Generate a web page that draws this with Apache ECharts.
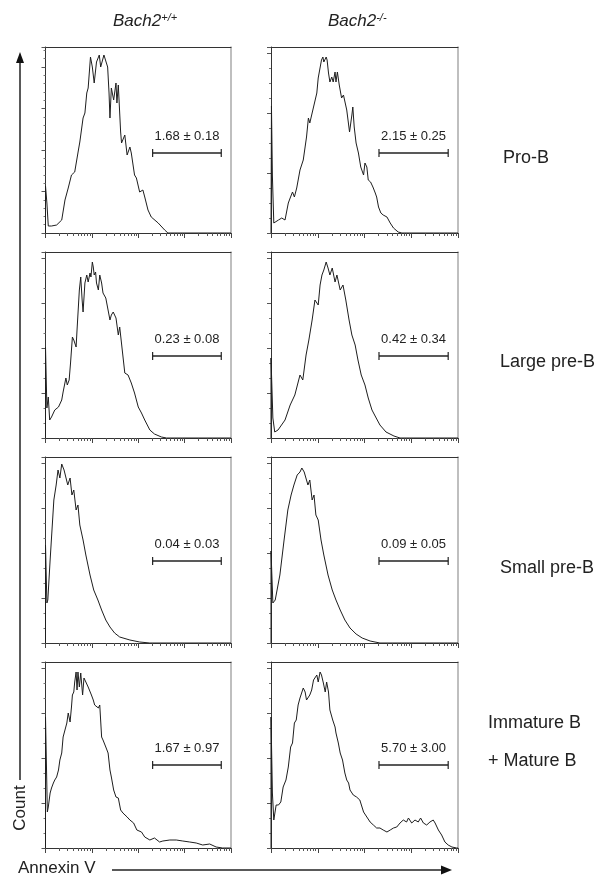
<!DOCTYPE html>
<html><head><meta charset="utf-8">
<script src="https://cdn.jsdelivr.net/npm/echarts@6/dist/echarts.min.js"></script>
<style>html,body{margin:0;padding:0;background:#fff}#c{width:601px;height:882px}</style>
</head><body><div id="c"></div>
<script>
const FONT = '"Liberation Sans", Arial, Helvetica, sans-serif';
const rowLabels = ['Pro-B', 'Large pre-B', 'Small pre-B', 'Immature B', '+ Mature B'];
const colHeads = ['+/+', '-/-'];
const gateTexts = ['1.68 \u00b1 0.18', '2.15 \u00b1 0.25', '0.23 \u00b1 0.08', '0.42 \u00b1 0.34',
                   '0.04 \u00b1 0.03', '0.09 \u00b1 0.05', '1.67 \u00b1 0.97', '5.70 \u00b1 3.00'];
const gateLo = 231, gateHi = 379;          // Annexin V channel (4 decades = 0..400)
const gateLevels = [80, 80, 82, 82, 82, 82, 83, 83];
const yMajor = [41.5, 60, 45, 45, 45, 45, 45, 45];
const ySplit = [5, 4, 3, 3, 3, 3, 3, 3];
const xMajorTicks = [0, 100, 200, 300, 400];

// Histograms: [Annexin V channel, count]
const proB_wt = [[0,0],[0,47],[3,30],[6,7],[13,7],[24,8],[35,13],[42,33],[49,45],[56,58],[63,61],[71,83],[74,91],[81,115],[85,120],[89,140],[92,145],[97,176],[101,166],[105,150],[110,171],[116,178],[119,166],[126,178],[130,180],[134,166],[137,140],[139,115],[142,145],[147,133],[152,150],[154,130],[157,148],[162,101],[164,90],[171,98],[176,78],[182,86],[185,80],[192,58],[196,55],[203,41],[210,43],[214,36],[221,23],[228,16],[243,10],[257,3],[264,0],[400,0]];
const proB_ko = [[0,0],[1,127],[3,57],[6,10],[16,13],[23,15],[30,13],[37,30],[41,35],[46,41],[50,36],[55,45],[62,63],[69,73],[76,96],[80,115],[83,110],[91,126],[98,140],[101,155],[105,156],[108,173],[111,176],[113,171],[118,176],[120,173],[123,160],[126,151],[130,156],[133,151],[137,161],[139,151],[142,161],[146,148],[151,135],[155,138],[162,123],[168,101],[173,118],[175,126],[178,106],[182,90],[187,80],[192,66],[198,58],[201,70],[205,66],[208,53],[213,51],[218,46],[223,40],[226,36],[230,26],[235,20],[240,18],[248,16],[255,10],[262,5],[272,1],[280,0],[400,0]];
const largePreB_wt = [[0,0],[0,91],[3,30],[6,41],[9,18],[13,21],[20,28],[28,31],[35,38],[38,46],[44,60],[47,53],[51,58],[54,75],[58,101],[61,98],[66,91],[68,108],[73,148],[76,161],[79,138],[81,126],[85,155],[89,163],[92,156],[96,165],[98,161],[101,176],[103,171],[105,163],[108,166],[110,155],[114,148],[117,163],[121,155],[124,145],[130,140],[134,138],[139,118],[142,123],[146,126],[152,120],[157,103],[160,111],[164,113],[171,65],[178,63],[185,55],[192,45],[200,31],[207,25],[214,18],[225,8],[235,4],[250,1],[261,0],[400,0]];
const largePreB_ko = [[0,0],[0,80],[4,20],[8,6],[15,8],[30,18],[41,33],[51,43],[62,63],[68,58],[75,83],[81,98],[88,118],[94,138],[101,133],[105,153],[109,163],[113,168],[118,176],[122,170],[126,163],[131,170],[137,156],[141,163],[148,148],[154,153],[160,138],[167,118],[173,103],[180,93],[186,78],[193,63],[201,53],[208,40],[216,28],[225,20],[233,13],[246,6],[263,2],[276,0],[400,0]];
const smallPreB_wt = [[0,0],[0,98],[3,40],[5,43],[10,83],[14,113],[18,143],[23,158],[27,173],[31,165],[35,179],[40,173],[44,175],[48,158],[53,165],[57,148],[61,153],[66,133],[70,138],[74,118],[81,103],[87,88],[96,68],[104,53],[113,43],[121,33],[130,23],[139,16],[149,10],[160,6],[182,3],[203,1],[225,0],[400,0]];
const smallPreB_ko = [[0,0],[0,92],[4,40],[9,43],[19,68],[28,103],[36,133],[43,148],[49,158],[56,168],[62,171],[66,175],[71,171],[75,173],[79,158],[83,163],[88,143],[92,148],[96,128],[101,123],[107,103],[113,88],[122,68],[131,53],[139,43],[148,33],[158,23],[169,15],[182,9],[195,5],[212,2],[233,0],[400,0]];
const matureB_wt = [[0,0],[0,131],[4,36],[6,41],[10,55],[13,60],[17,65],[20,68],[24,71],[28,78],[31,88],[35,95],[38,111],[42,118],[46,125],[49,135],[53,126],[56,141],[58,153],[61,156],[63,166],[66,176],[68,158],[70,176],[73,161],[76,175],[80,153],[83,170],[87,166],[92,161],[96,160],[99,153],[103,148],[106,143],[110,145],[114,140],[117,143],[121,111],[124,108],[130,101],[135,95],[139,78],[142,71],[147,58],[152,51],[157,50],[162,38],[167,35],[176,31],[182,28],[190,25],[197,18],[207,16],[214,11],[225,8],[235,10],[246,6],[253,7],[268,8],[282,8],[296,7],[311,6],[325,5],[339,3],[354,4],[368,1],[382,0],[400,0]];
const matureB_ko = [[0,0],[0,131],[3,55],[6,28],[11,43],[16,43],[21,46],[26,61],[32,68],[37,81],[42,101],[46,105],[50,125],[54,128],[58,143],[62,150],[66,148],[69,160],[73,156],[76,148],[80,150],[83,153],[87,158],[91,168],[94,170],[98,173],[101,166],[105,176],[108,173],[112,165],[116,156],[119,166],[123,156],[126,138],[132,128],[137,121],[139,115],[144,105],[148,95],[153,88],[158,75],[162,68],[166,65],[169,58],[176,53],[183,51],[190,48],[198,36],[205,31],[212,26],[219,23],[226,20],[233,20],[240,18],[248,16],[255,18],[262,20],[269,21],[276,25],[283,28],[290,26],[294,30],[301,25],[308,28],[315,26],[320,30],[326,25],[333,23],[340,26],[347,28],[351,25],[358,18],[365,13],[372,6],[379,3],[387,1],[397,0],[400,0]];

const panels = [proB_wt, proB_ko, largePreB_wt, largePreB_ko, smallPreB_wt, smallPreB_ko, matureB_wt, matureB_ko];

const xMinorTicks = [];
for (let d = 0; d < 4; d++) for (let k = 2; k <= 9; k++) xMinorTicks.push(100 * d + 100 * Math.log10(k));

const rowTops = [47, 252, 457, 662];
const colLefts = [45.5, 271];
const colWidths = [185.5, 187];
const panelH = 186;

const grid = [], xAxis = [], yAxis = [], series = [];
panels.forEach((data, i) => {
  const r = Math.floor(i / 2), c = i % 2;
  grid.push({left: colLefts[c], top: rowTops[r], width: colWidths[c], height: panelH, containLabel: false});
  const base = {type: 'value', gridIndex: i, min: 0, max: 400, axisLabel: {show: false}, splitLine: {show: false}};
  xAxis.push(Object.assign({}, base, {position: 'bottom',
    axisLine: {onZero: false, lineStyle: {color: '#333', width: 1}},
    axisTick: {customValues: xMajorTicks, length: 5, lineStyle: {color: '#444'}}}));
  xAxis.push(Object.assign({}, base, {position: 'bottom',
    axisLine: {show: false, onZero: false},
    axisTick: {customValues: xMinorTicks, length: 3, lineStyle: {color: '#555'}}}));
  xAxis.push(Object.assign({}, base, {position: 'top',
    axisLine: {onZero: false, lineStyle: {color: '#333', width: 1}}, axisTick: {show: false}}));
  yAxis.push({type: 'value', gridIndex: i, min: 0, max: panelH, interval: yMajor[i], position: 'left',
    axisLabel: {show: false}, splitLine: {show: false},
    axisLine: {onZero: false, lineStyle: {color: '#333', width: 1}},
    axisTick: {length: 4, lineStyle: {color: '#555'}},
    minorTick: {show: true, splitNumber: ySplit[i], length: 2, lineStyle: {color: '#777'}}});
  yAxis.push({type: 'value', gridIndex: i, min: 0, max: panelH, position: 'right',
    axisLabel: {show: false}, splitLine: {show: false}, axisTick: {show: false},
    axisLine: {onZero: false, lineStyle: {color: '#aaa', width: 1.5}}});
  series.push({type: 'line', xAxisIndex: 3 * i, yAxisIndex: 2 * i, data: data, showSymbol: false,
    symbol: 'none', lineStyle: {color: '#1e1e1e', width: 1}, animation: false, silent: true});
  const label = gateTexts[i];
  series.push({type: 'custom', xAxisIndex: 3 * i, yAxisIndex: 2 * i, animation: false, silent: true,
    data: [[gateLo, gateHi, gateLevels[i]]],
    renderItem: (params, api) => {
      const a = api.coord([api.value(0), api.value(2)]);
      const b = api.coord([api.value(1), api.value(2)]);
      const st = {stroke: '#222', lineWidth: 1.5};
      return {type: 'group', children: [
        {type: 'line', shape: {x1: a[0], y1: a[1], x2: b[0], y2: b[1]}, style: st},
        {type: 'line', shape: {x1: a[0], y1: a[1] - 4, x2: a[0], y2: a[1] + 4}, style: {stroke: '#222', lineWidth: 1.2}},
        {type: 'line', shape: {x1: b[0], y1: b[1] - 4, x2: b[0], y2: b[1] + 4}, style: {stroke: '#222', lineWidth: 1.2}},
        {type: 'text', style: {text: label, x: (a[0] + b[0]) / 2, y: a[1] - 10, align: 'center', verticalAlign: 'bottom',
          font: '13px ' + FONT, fill: '#222'}}
      ]};
    }});
});

const txt = (t, x, y, size) => ({type: 'text', x: x, y: y,
  style: {text: t, font: (size || 18) + 'px ' + FONT, fill: '#222', verticalAlign: 'middle'}});

const head = (sup, x) => ({type: 'text', x: x, y: 21, style: {text: '{b|Bach2}{s|' + sup + '}', verticalAlign: 'middle',
    rich: {b: {fontSize: 17, fontStyle: 'italic', fontFamily: FONT, fill: '#222'},
           s: {fontSize: 11, fontStyle: 'italic', fontFamily: FONT, fill: '#222', verticalAlign: 'top'}}}});

const graphic = [
  head(colHeads[0], 113),
  head(colHeads[1], 328),
  txt(rowLabels[0], 503, 158),
  txt(rowLabels[1], 500, 362),
  txt(rowLabels[2], 500, 568),
  txt(rowLabels[3], 488, 723),
  txt(rowLabels[4], 488, 761),
  {type: 'text', x: 20, y: 808, rotation: Math.PI / 2,
    style: {text: 'Count', font: '17px ' + FONT, fill: '#222', align: 'center', verticalAlign: 'middle'}},
  {type: 'line', shape: {x1: 20, y1: 780, x2: 20, y2: 60}, style: {stroke: '#222', lineWidth: 1.5}},
  {type: 'polygon', shape: {points: [[20, 52], [16, 63], [24, 63]]}, style: {fill: '#111'}},
  txt('Annexin V', 18, 868, 17),
  {type: 'line', shape: {x1: 112, y1: 870, x2: 442, y2: 870}, style: {stroke: '#222', lineWidth: 1.5}},
  {type: 'polygon', shape: {points: [[452, 870], [441, 865.5], [441, 874.5]]}, style: {fill: '#111'}}
];

const chart = echarts.init(document.getElementById('c'), null, {renderer: 'canvas'});
chart.setOption({animation: false, backgroundColor: '#fff', grid, xAxis, yAxis, series, graphic});
</script></body></html>
